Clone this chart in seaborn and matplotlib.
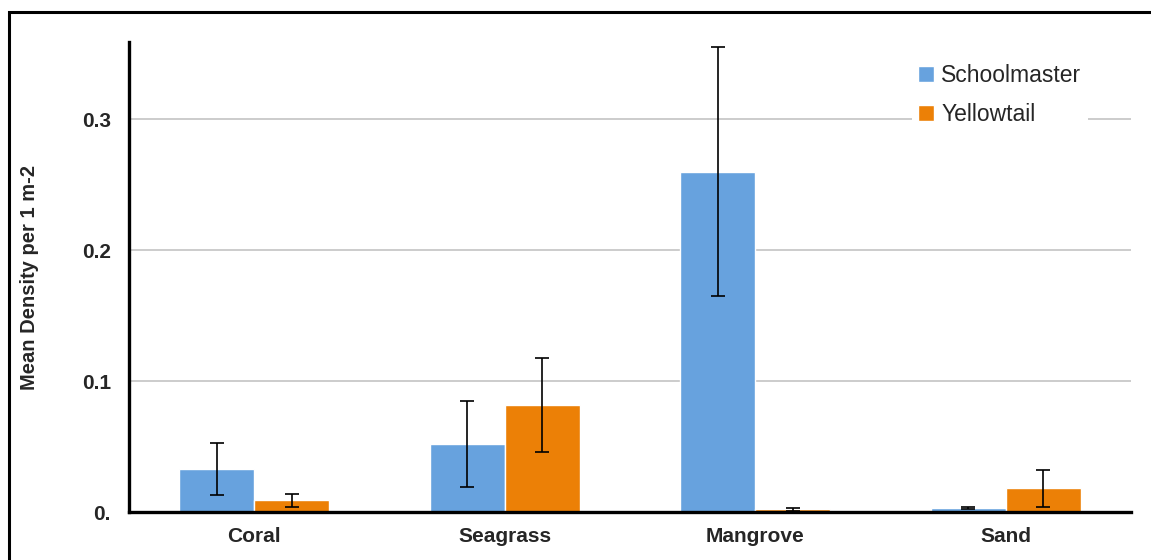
# Mean density of schoolmaster and yellowtail by habitat
import pandas as pd
import seaborn as sns
import matplotlib.pyplot as plt
from matplotlib.patches import Rectangle

habitats = ["Coral", "Seagrass", "Mangrove", "Sand"]
species = ["Schoolmaster", "Yellowtail"]
schoolmaster_mean = [0.033, 0.052, 0.260, 0.003]
schoolmaster_err = [0.020, 0.033, 0.095, 0.001]
yellowtail_mean = [0.009, 0.082, 0.002, 0.018]
yellowtail_err = [0.005, 0.036, 0.001, 0.014]
ytick_vals = [0.0, 0.1, 0.2, 0.3]
ytick_labels = ["0.", "0.1", "0.2", "0.3"]

colores = {"Schoolmaster": "#67A2DE", "Yellowtail": "#EC8006"}

df = pd.DataFrame({
    "habitat": habitats * 2,
    "species": [species[0]] * 4 + [species[1]] * 4,
    "mean": schoolmaster_mean + yellowtail_mean,
    "err": schoolmaster_err + yellowtail_err,
})

sns.set_style("white")
plt.rcParams['font.family'] = ['Liberation Sans', 'DejaVu Sans']

fig = plt.figure(figsize=(11.51, 5.6), dpi=100)
ax = fig.add_axes([0.112, 0.0857, 0.8706, 0.8393])

sns.barplot(data=df, x="habitat", y="mean", hue="species", order=habitats,
            hue_order=species, palette=colores, width=0.6, errorbar=None,
            saturation=1, ax=ax, zorder=2)

# error bars from the bar positions
errs = {"Schoolmaster": schoolmaster_err, "Yellowtail": yellowtail_err}
for cont, sp in zip(ax.containers, species):
    for bar, e in zip(cont, errs[sp]):
        xc = bar.get_x() + bar.get_width() / 2
        ax.errorbar(xc, bar.get_height(), yerr=e, color="black", lw=1.2,
                    capsize=5, capthick=1.2, zorder=3)

ax.set_xlim(-0.5, 3.5)
ax.set_ylim(0, 0.359)
ax.set_yticks(ytick_vals)
ax.set_yticklabels(ytick_labels, fontsize=15, fontweight="bold")
ax.set_xticks(range(len(habitats)))
ax.set_xticklabels(habitats, fontsize=15, fontweight="bold")
ax.set_xticks([-0.5, 0.5, 1.5, 2.5, 3.5], minor=True)
ax.tick_params(axis="x", which="major", length=0, pad=11)
ax.tick_params(axis="x", which="minor", length=5, width=2.5, direction="out", color="black")
ax.tick_params(axis="y", length=5, width=2.5, direction="out", color="black", pad=8)
ax.yaxis.grid(True, color="#c4c4c4", lw=1.2, zorder=0)
ax.set_axisbelow(True)

for s in ["top", "right"]:
    ax.spines[s].set_visible(False)
for s in ["left", "bottom"]:
    ax.spines[s].set_color("black")
    ax.spines[s].set_linewidth(2.4)

ax.set_xlabel("")
ax.set_ylabel("Mean Density per 1 m-2", fontsize=14.5, fontweight="bold")
ax.yaxis.set_label_coords(-0.09, 0.5)

handles, labels = ax.get_legend_handles_labels()
ax.legend_.remove()
leg = fig.legend(handles, labels, loc="upper left", bbox_to_anchor=(0.782, 0.918),
                 fontsize=16.5, frameon=True, facecolor="white", edgecolor="none",
                 framealpha=1, handlelength=0.7, handleheight=0.7,
                 handletextpad=0.3, labelspacing=0.7, borderpad=0.3)
leg.set_zorder(5)

# outer frame
fig.patches.append(Rectangle((0.008, -0.05), 1.05, 1.05 - 0.021, transform=fig.transFigure,
                             fill=False, edgecolor="black", lw=2.2))

plt.savefig("out.png", dpi=100)
